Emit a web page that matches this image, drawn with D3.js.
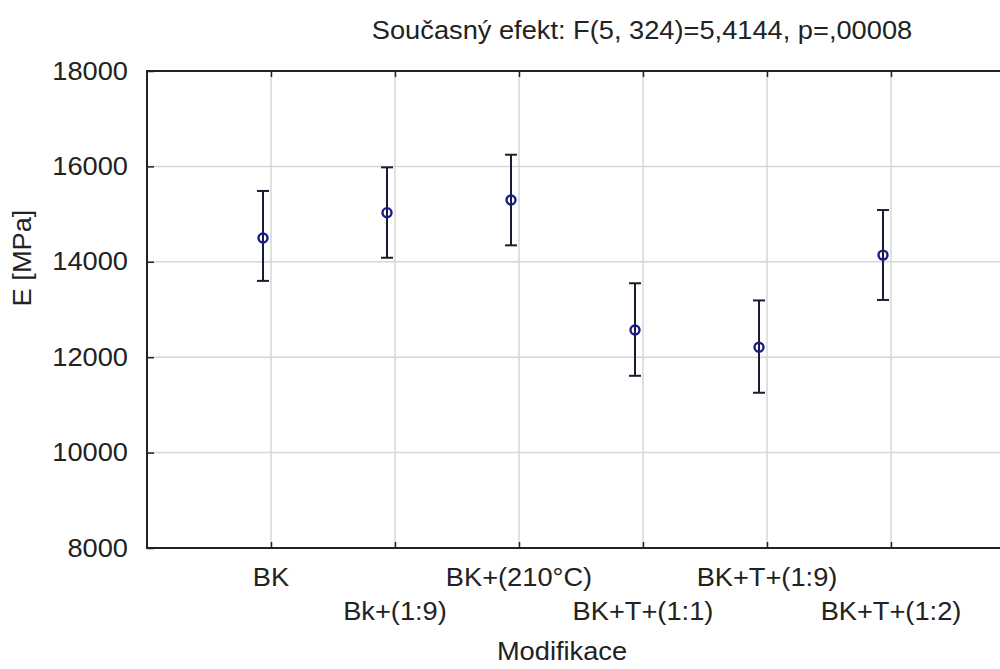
<!DOCTYPE html>
<html>
<head>
<meta charset="utf-8">
<script src="https://cdn.jsdelivr.net/npm/d3@7"></script>
<style>
  body { margin: 0; background: #fff; }
  svg { display: block; font-family: "Liberation Sans", Arial, sans-serif; }
  /* the source picture is a bit stretched sideways */
  .wide { transform-box: fill-box; transform-origin: 50% 50%; transform: scaleX(1.09); }
  .wide-r { transform-box: fill-box; transform-origin: 100% 50%; transform: scaleX(1.09); }
</style>
</head>
<body>
<svg width="1000" height="669"></svg>
<script>
// data
const categories = ['BK', 'Bk+(1:9)', 'BK+(210°C)', 'BK+T+(1:1)', 'BK+T+(1:9)', 'BK+T+(1:2)']
const means = [14500, 15030, 15295, 12570, 12210, 14140]
const upper = [15485, 15980, 16245, 13550, 13190, 15085]
const lower = [13600, 14085, 14345, 11610, 11255, 13200]
const yTicks = [8000, 10000, 12000, 14000, 16000, 18000]
const title = 'Současný efekt: F(5, 324)=5,4144, p=,00008'

const svg = d3.select('svg')

const margin = { top: 71, left: 147, bottom: 121 },
      chartHeight = 669 - margin.top - margin.bottom,
      step = 124,
      chartWidth = step * (categories.length + 1)

const x = d3.scaleLinear().domain([0, categories.length + 1]).range([0, chartWidth])
const y = d3.scaleLinear().domain([8000, 18000]).range([chartHeight, 0])

const chart = svg.append('g')
    .attr('transform', `translate(${margin.left},${margin.top})`)

// grid
chart.append('g').selectAll('line')
    .data(categories)
    .join('line')
    .attr('x1', (d, i) => x(i + 1)).attr('x2', (d, i) => x(i + 1))
    .attr('y1', 0).attr('y2', chartHeight)
    .attr('stroke', '#d6d6d6').attr('stroke-width', 1.5)
chart.append('g').selectAll('line')
    .data(yTicks.slice(1, -1))
    .join('line')
    .attr('x1', 0).attr('x2', chartWidth)
    .attr('y1', d => y(d)).attr('y2', d => y(d))
    .attr('stroke', '#d6d6d6').attr('stroke-width', 1.5)

// y axis
const yAxis = d3.axisLeft(y).tickValues(yTicks).tickSize(-7).tickPadding(19).tickFormat(d3.format('d'))
chart.append('g')
    .call(yAxis)
    .call(g => g.select('.domain').remove())
    .call(g => g.selectAll('.tick line').attr('stroke', '#222').attr('stroke-width', 1.5))
    .call(g => g.selectAll('.tick text')
        .attr('class', 'wide-r')
        .attr('font-size', 25).attr('fill', '#222').attr('font-family', 'Liberation Sans, Arial'))

// x axis ticks (bottom and top, pointing inward)
const tickPos = d3.range(1, categories.length + 1)
chart.append('g').attr('transform', `translate(0,${chartHeight})`)
    .call(d3.axisBottom(x).tickValues(tickPos).tickSize(-6).tickFormat(''))
    .call(g => g.select('.domain').remove())
    .call(g => g.selectAll('.tick line').attr('stroke', '#222').attr('stroke-width', 1.5))
chart.append('g')
    .call(d3.axisTop(x).tickValues(tickPos).tickSize(-6).tickFormat(''))
    .call(g => g.select('.domain').remove())
    .call(g => g.selectAll('.tick line').attr('stroke', '#222').attr('stroke-width', 1.5))

// category labels, staggered in two rows
chart.append('g').selectAll('text')
    .data(categories)
    .join('text')
    .attr('class', 'wide')
    .attr('x', (d, i) => x(i + 1))
    .attr('y', (d, i) => chartHeight + (i % 2 === 0 ? 38 : 72))
    .attr('text-anchor', 'middle')
    .attr('font-size', 25)
    .attr('fill', '#222')
    .text(d => d)

// frame
chart.append('rect')
    .attr('width', chartWidth).attr('height', chartHeight)
    .attr('fill', 'none').attr('stroke', '#222').attr('stroke-width', 2)

// error bars + means (points sit a little left of the tick)
const off = -8
const bars = chart.append('g').selectAll('g')
    .data(categories)
    .join('g')
bars.append('line')
    .attr('x1', (d, i) => x(i + 1) + off).attr('x2', (d, i) => x(i + 1) + off)
    .attr('y1', (d, i) => y(upper[i])).attr('y2', (d, i) => y(lower[i]))
    .attr('stroke', '#1c1c30').attr('stroke-width', 2)
bars.append('line')
    .attr('x1', (d, i) => x(i + 1) + off - 6).attr('x2', (d, i) => x(i + 1) + off + 6)
    .attr('y1', (d, i) => y(upper[i])).attr('y2', (d, i) => y(upper[i]))
    .attr('stroke', '#1c1c30').attr('stroke-width', 2)
bars.append('line')
    .attr('x1', (d, i) => x(i + 1) + off - 6).attr('x2', (d, i) => x(i + 1) + off + 6)
    .attr('y1', (d, i) => y(lower[i])).attr('y2', (d, i) => y(lower[i]))
    .attr('stroke', '#1c1c30').attr('stroke-width', 2)
bars.append('circle')
    .attr('cx', (d, i) => x(i + 1) + off)
    .attr('cy', (d, i) => y(means[i]))
    .attr('r', 4.5)
    .attr('fill', 'none').attr('stroke', '#1a1a8a').attr('stroke-width', 2.4)

// titles
svg.append('text')
    .attr('class', 'wide')
    .attr('x', 642).attr('y', 39)
    .attr('text-anchor', 'middle').attr('font-size', 25).attr('fill', '#222')
    .text(title)
svg.append('text')
    .attr('class', 'wide')
    .attr('x', 562).attr('y', 660)
    .attr('text-anchor', 'middle').attr('font-size', 25).attr('fill', '#222')
    .text('Modifikace')
svg.append('g')
    .attr('transform', 'translate(31,258) rotate(-90)')
  .append('text')
    .attr('class', 'wide')
    .attr('text-anchor', 'middle').attr('font-size', 25).attr('fill', '#222')
    .text('E [MPa]')
</script>
</body>
</html>
